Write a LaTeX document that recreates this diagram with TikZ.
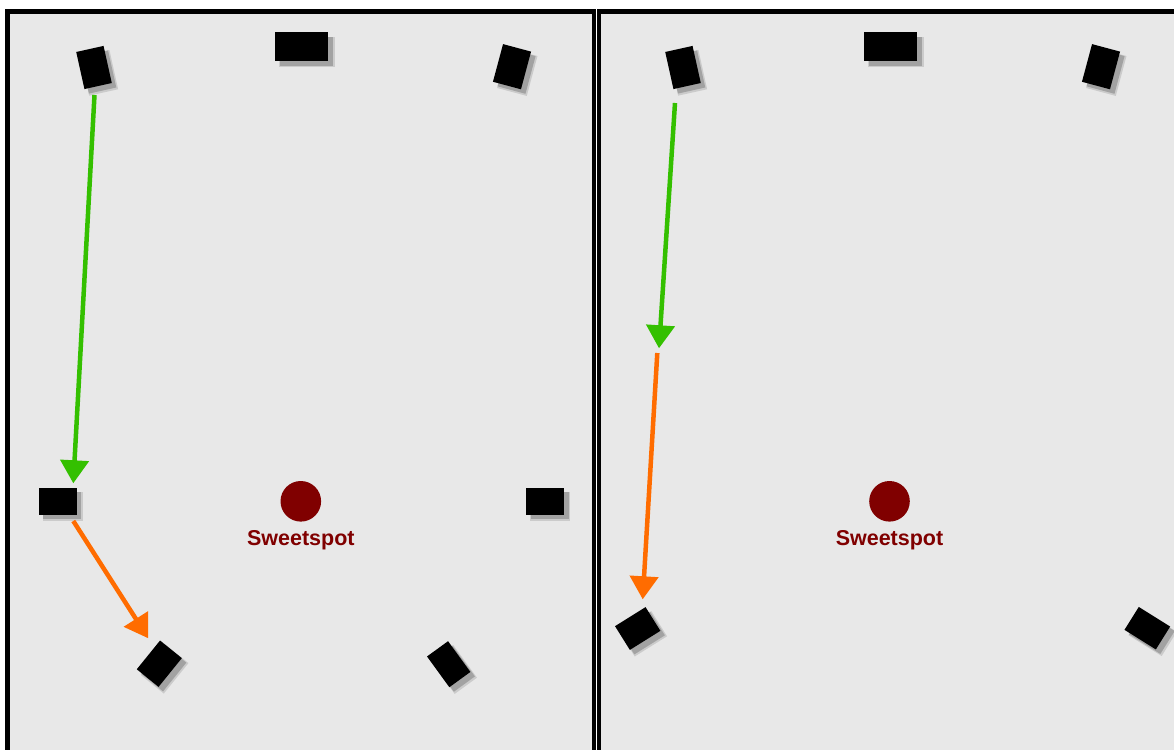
\documentclass[tikz,border=0pt]{standalone}
\usepackage{fontspec}
\newfontfamily\lblfont{Liberation Sans}
\usetikzlibrary{arrows.meta,shadows}
\definecolor{panelbg}{HTML}{E8E8E8}
\definecolor{spotred}{HTML}{800000}
\definecolor{arrgreen}{RGB}{52,192,0}
\definecolor{arrorange}{RGB}{255,108,0}
\begin{document}
\begin{tikzpicture}[x=1pt,y=-1pt,
  panel/.style={draw=black, line width=4.5pt, fill=panelbg},
  spk/.style={fill=black, draw=none, inner sep=0pt, outer sep=0pt,
    general shadow={shadow xshift=5pt, shadow yshift=-5pt, shadow scale=1.06, opacity=0.12, fill=black},
    general shadow={shadow xshift=4.5pt, shadow yshift=-4.5pt, opacity=0.2, fill=black}},
  spot/.style={circle, fill=spotred, draw=none, minimum size=40.6pt, inner sep=0pt},
  spotlbl/.style={text=spotred, font=\lblfont\bfseries\fontsize{21.5}{24}\selectfont, inner sep=0pt},
  garrow/.style={draw=arrgreen, line width=4.5pt, -{Triangle[length=23pt,width=28pt]}},
  oarrow/.style={draw=arrorange, line width=4.5pt, -{Triangle[length=23pt,width=28pt]}}
]
\useasboundingbox (0,0) rectangle (1174,749);
\clip (0,0) rectangle (1174,749);
\fill[white] (0,0) rectangle (1174,749);
% panels
\draw[panel] (7.5,11.5) rectangle (594,775);
\draw[panel] (599,11.5) rectangle (1190,775);

% left panel speakers
\node[spk, minimum width=28pt, minimum height=38pt, rotate=12.5] (lTL) at (94,67.5) {};
\node[spk, minimum width=53pt, minimum height=29pt] (lTC) at (301.7,46.7) {};
\node[spk, minimum width=29pt, minimum height=39pt, rotate=-15] (lTR) at (512,66.7) {};
\node[spk, minimum width=38pt, minimum height=27pt] (lML) at (57.5,501) {};
\node[spk, minimum width=38pt, minimum height=27pt] (lMR) at (545,501) {};
\node[spk, minimum width=28pt, minimum height=37pt, rotate=-39] (lBL) at (159.3,663.7) {};
\node[spk, minimum width=26pt, minimum height=38pt, rotate=36] (lBR) at (448.7,664.2) {};

% left sweetspot
\node[spot] (lspot) at (300.8,501.3) {};
\node[spotlbl] (lspotlbl) at (300.8,540) {Sweetspot};

% right panel speakers
\node[spk, minimum width=28pt, minimum height=38pt, rotate=12.5] (rTL) at (683,67.5) {};
\node[spk, minimum width=53pt, minimum height=29pt] (rTC) at (890.7,46.7) {};
\node[spk, minimum width=29pt, minimum height=39pt, rotate=-15] (rTR) at (1101,66.7) {};
\node[spk, minimum width=36pt, minimum height=28pt, rotate=32] (rBL) at (637.7,628.5) {};
\node[spk, minimum width=37pt, minimum height=27pt, rotate=-32] (rBR) at (1147.3,628.2) {};

% right sweetspot
\node[spot] (rspot) at (889.5,501.3) {};
\node[spotlbl] (rspotlbl) at (889.5,540) {Sweetspot};

% arrow end points
\coordinate (lg1) at (94.5,95);
\coordinate (lg2) at (73.3,483.3);
\coordinate (lo1) at (73.3,521);
\coordinate (lo2) at (148.3,638.3);
\coordinate (rg1) at (675,103);
\coordinate (rg2) at (659,348.3);
\coordinate (ro1) at (657.3,353);
\coordinate (ro2) at (642.7,599.3);

\draw[garrow] (lg1) -- (lg2);
\draw[oarrow] (lo1) -- (lo2);
\draw[garrow] (rg1) -- (rg2);
\draw[oarrow] (ro1) -- (ro2);
\end{tikzpicture}
\end{document}
